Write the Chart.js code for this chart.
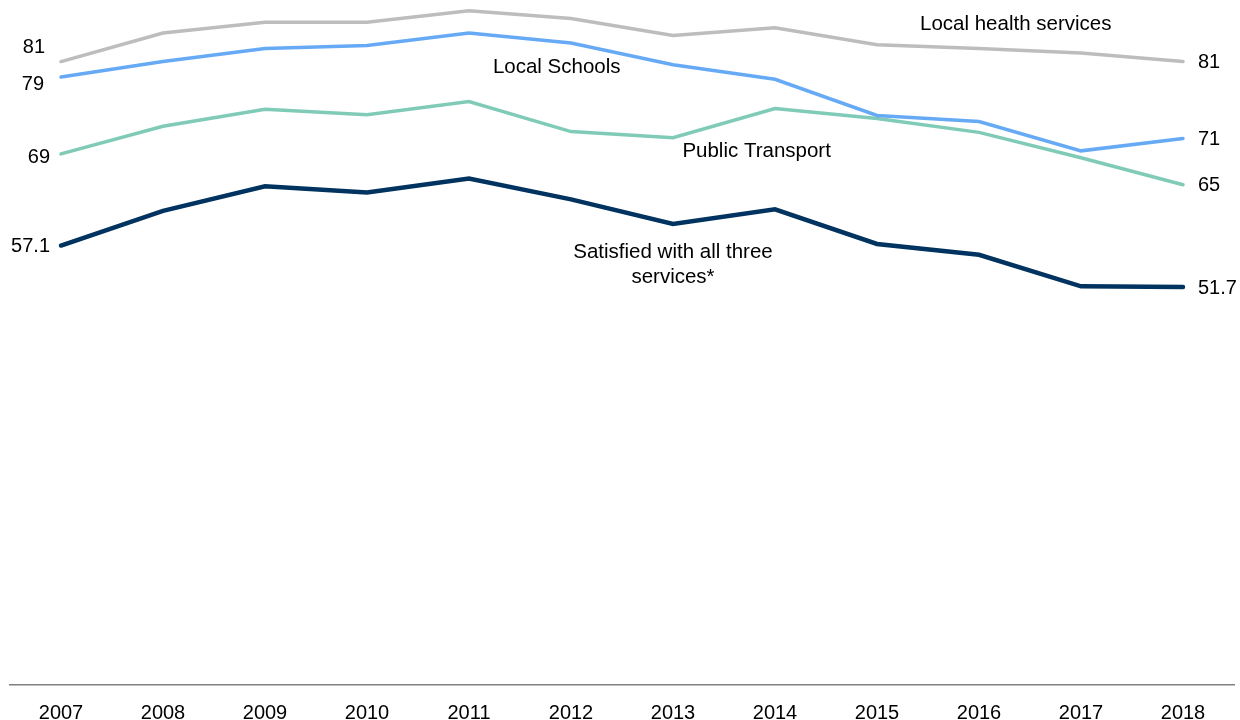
<!DOCTYPE html>
<html>
<head>
<meta charset="utf-8">
<script src="https://cdn.jsdelivr.net/npm/chart.js@4/dist/chart.umd.min.js"></script>
<style>
html,body{margin:0;padding:0;background:#fff;}
#wrap{width:1240px;height:720px;position:relative;}
</style>
</head>
<body>
<div id="wrap"><canvas id="c" width="1240" height="720"></canvas></div>
<script>
const years = ['2007','2008','2009','2010','2011','2012','2013','2014','2015','2016','2017','2018'];
const healthValues = [81, 84.7, 86.1, 86.1, 87.6, 86.6, 84.4, 85.4, 83.2, 82.7, 82.1, 81];
const schoolValues = [79, 81.0, 82.7, 83.1, 84.7, 83.4, 80.6, 78.7, 74.0, 73.2, 69.4, 71];
const transportValues = [69, 72.6, 74.8, 74.1, 75.8, 71.9, 71.1, 74.9, 73.6, 71.8, 68.5, 65];
const allThreeValues = [57.1, 61.6, 64.8, 64.0, 65.8, 63.1, 59.9, 61.8, 57.3, 55.9, 51.8, 51.7];
const seriesNames = ['Local health services', 'Local Schools', 'Public Transport', 'Satisfied with all three services*'];

const FONT = '"Liberation Sans", Arial, sans-serif';

// name label placement: [x index (fractional), y value, lines]
const nameLabels = [
  {x: 9.36, y: 85.8, lines: ['Local health services']},
  {x: 4.86, y: 80.2, lines: ['Local Schools']},
  {x: 6.82, y: 69.3, lines: ['Public Transport']},
  {x: 6.0, y: 56.2, lines: ['Satisfied with all three', 'services*']}
];
// end labels: pixel offsets from point
const startOffsets = [[-16, -14], [-17, 8], [-11, 4], [-11, 1]];
const endOffsets = [[15, 1], [15, 1], [15, 1], [15, 1]];

const labelPlugin = {
  id: 'labels',
  afterDatasetsDraw(chart) {
    const ctx = chart.ctx;
    const xs = chart.scales.x, ys = chart.scales.y;
    ctx.save();
    ctx.font = '20px ' + FONT;
    ctx.fillStyle = '#000';
    ctx.textBaseline = 'middle';
    chart.data.datasets.forEach((ds, i) => {
      const meta = chart.getDatasetMeta(i);
      const p0 = meta.data[0], pN = meta.data[meta.data.length - 1];
      const v0 = ds.data[0], vN = ds.data[ds.data.length - 1];
      ctx.textAlign = 'right';
      ctx.fillText(String(v0), p0.x + startOffsets[i][0], p0.y + startOffsets[i][1]);
      ctx.textAlign = 'left';
      ctx.fillText(String(vN), pN.x + endOffsets[i][0], pN.y + endOffsets[i][1]);
    });
    ctx.font = '20.5px ' + FONT;
    ctx.textAlign = 'center';
    nameLabels.forEach(l => {
      const px = xs.getPixelForValue(l.x);
      const py = ys.getPixelForValue(l.y);
      l.lines.forEach((t, k) => ctx.fillText(t, px, py + k * 25));
    });
    ctx.restore();
  }
};

new Chart(document.getElementById('c'), {
  type: 'line',
  data: {
    labels: years,
    datasets: [
      {label: seriesNames[0], data: healthValues, borderColor: '#BDBDBD', borderWidth: 3.5},
      {label: seriesNames[1], data: schoolValues, borderColor: '#66AAF5', borderWidth: 3.5},
      {label: seriesNames[2], data: transportValues, borderColor: '#80CBB8', borderWidth: 3.5},
      {label: seriesNames[3], data: allThreeValues, borderColor: '#00335F', borderWidth: 4.5}
    ].map(d => Object.assign(d, {pointRadius: 0, pointHoverRadius: 0, tension: 0, fill: false, borderCapStyle: 'round', borderJoinStyle: 'miter'}))
  },
  options: {
    responsive: false,
    animation: false,
    events: [],
    layout: {padding: {left: 10, right: 6, top: 0, bottom: 0}},
    plugins: {legend: {display: false}, tooltip: {enabled: false}},
    scales: {
      x: {
        offset: true,
        grid: {display: false, drawTicks: false},
        border: {display: true, color: '#808080', width: 1.5},
        ticks: {color: '#000', font: {family: FONT, size: 20}, padding: 16, maxRotation: 0, autoSkip: false},
        afterFit(scale) { scale.height = 35; }
      },
      y: {display: false, min: 0, max: 89}
    }
  },
  plugins: [labelPlugin]
});
</script>
</body>
</html>
